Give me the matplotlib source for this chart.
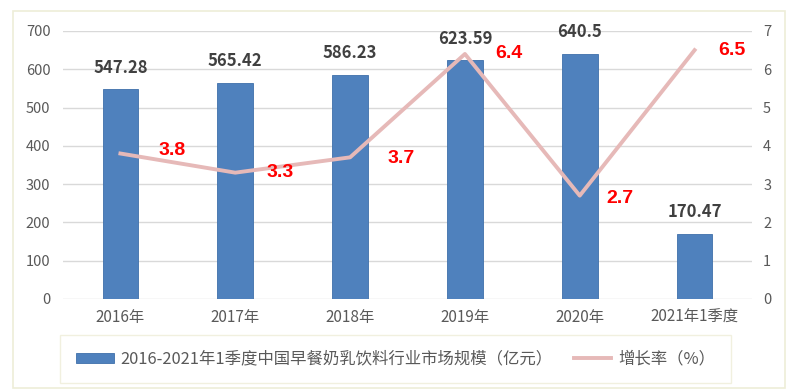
import matplotlib
matplotlib.use("Agg")
import matplotlib.pyplot as plt
from matplotlib.patches import Rectangle

plt.rcParams['font.family'] = ['Noto Sans CJK SC', 'DejaVu Sans']

categories = ['2016年', '2017年', '2018年', '2019年', '2020年', '2021年1季度']
market_size = [547.28, 565.42, 586.23, 623.59, 640.5, 170.47]
growth_rate = [3.8, 3.3, 3.7, 6.4, 2.7, 6.5]
size_labels = ['547.28', '565.42', '586.23', '623.59', '640.5', '170.47']
rate_labels = ['3.8', '3.3', '3.7', '6.4', '2.7', '6.5']
bar_name = '2016-2021年1季度中国早餐奶乳饮料行业市场规模（亿元）'
line_name = '增长率（%）'

fig = plt.figure(figsize=(7.91, 3.91), dpi=100)
fig.patches.append(Rectangle((13/791, 1-388/391), 772/791, 377/391, transform=fig.transFigure,
                             fill=False, edgecolor='#EEEDD8', linewidth=1.2))
ax = fig.add_axes([63/791, 1-299/391, 689/791, 268/391])
x = list(range(len(categories)))
bars = ax.bar(x, market_size, width=0.31, color='#4F81BD', edgecolor='#3F70AA', linewidth=0.6,
              label=bar_name, zorder=2)
ax.set_ylim(0, 700)
ax.set_xlim(-0.5, len(categories) - 0.5)
ax.set_yticks(range(0, 701, 100))
ax.grid(axis='y', color='#D9D9D9', linewidth=1, zorder=0)
for s in ax.spines.values():
    s.set_visible(False)
ax.tick_params(axis='both', length=0, colors='#595959')
ax.tick_params(axis='y', labelsize=10.5, pad=9)
ax.tick_params(axis='x', labelsize=11, pad=7)
ax.set_xticks(x)
ax.set_xticklabels(categories)
for i, v in enumerate(market_size):
    ax.annotate(size_labels[i], (i, v), xytext=(0, 9), textcoords='offset points',
                ha='center', va='bottom', fontsize=12, fontweight='bold', color='#404040')

ax2 = ax.twinx()
ax2.set_ylim(0, 7)
ax2.set_yticks(range(0, 8))
for s in ax2.spines.values():
    s.set_visible(False)
ax2.tick_params(axis='y', length=0, labelsize=10.5, colors='#595959', pad=8)
line, = ax2.plot(x, growth_rate, color='#E6B9B8', linewidth=2.8, label=line_name, zorder=3)
offsets = [(37, 2.5), (32.4, 0), (36.7, -1), (31.7, 0), (28.8, -2), (26.6, 0)]
for i, v in enumerate(growth_rate):
    ax2.annotate(rate_labels[i], (i, v), xytext=offsets[i], textcoords='offset points',
                 ha='center', va='center', fontsize=14, fontweight='bold', color='#FF0000',
                 family=['Liberation Sans', 'DejaVu Sans'])

leg = fig.legend(handles=[bars, line], labels=[bar_name, line_name], loc='center',
                 bbox_to_anchor=(395.5/791, 1-359/391), ncol=2, frameon=True, fancybox=False,
                 fontsize=11.8, labelcolor='#595959', handlelength=2.3, handleheight=0.6,
                 columnspacing=1.3, borderpad=0.95, handletextpad=0.4)
leg.get_frame().set_edgecolor('#EEEDD8')
leg.get_frame().set_linewidth(1.0)

fig.savefig('out.png', dpi=100)
